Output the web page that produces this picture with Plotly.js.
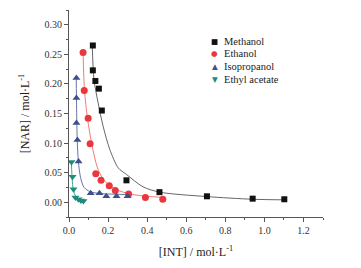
<!DOCTYPE html>
<html>
<head>
<meta charset="utf-8">
<script src="https://cdn.plot.ly/plotly-3.0.1.min.js"></script>
<style>html,body{margin:0;padding:0;background:#fff;}#chart{width:361px;height:268px;}</style>
</head>
<body>
<div id="chart"></div>
<script>
// Series names
const seriesNames = ["Methanol", "Ethanol", "Isopropanol", "Ethyl acetate"];

// Measured points: [INT] (x) and [NAR] (y), mol/L
const methanolX = [0.122, 0.122, 0.135, 0.153, 0.168, 0.294, 0.463, 0.706, 0.940, 1.102];
const methanolY = [0.265, 0.223, 0.205, 0.192, 0.155, 0.037, 0.017, 0.010, 0.006, 0.005];
const ethanolX = [0.072, 0.078, 0.098, 0.108, 0.137, 0.164, 0.206, 0.237, 0.305, 0.391, 0.480];
const ethanolY = [0.253, 0.189, 0.142, 0.099, 0.048, 0.037, 0.028, 0.020, 0.014, 0.008, 0.005];
const isoX = [0.038, 0.038, 0.038, 0.043, 0.049, 0.111, 0.156, 0.191, 0.243, 0.300];
const isoY = [0.210, 0.176, 0.134, 0.105, 0.069, 0.015, 0.015, 0.010, 0.010, 0.010];
const ethylX = [0.013, 0.018, 0.023, 0.033, 0.048, 0.061, 0.074];
const ethylY = [0.068, 0.043, 0.022, 0.008, 0.005, 0.003, 0.002];

// Fitted curves
const methanolFitX = [0.119, 0.128, 0.149, 0.175, 0.209, 0.252, 0.294, 0.379, 0.464, 0.703, 0.940, 1.102];
const methanolFitY = [0.264, 0.207, 0.168, 0.128, 0.089, 0.058, 0.047, 0.026, 0.017, 0.0096, 0.005, 0.004];
const ethanolFitX = [0.072, 0.079, 0.094, 0.107, 0.122, 0.146, 0.175, 0.209, 0.260, 0.327, 0.403, 0.481];
const ethanolFitY = [0.253, 0.190, 0.143, 0.116, 0.089, 0.058, 0.039, 0.028, 0.019, 0.013, 0.010, 0.008];
const isoFitX = [0.037, 0.039, 0.042, 0.048, 0.059, 0.077, 0.107, 0.158, 0.235, 0.301];
const isoFitY = [0.210, 0.157, 0.106, 0.069, 0.042, 0.025, 0.018, 0.0147, 0.0135, 0.013];
const ethylFitX = [0.012, 0.015, 0.020, 0.031, 0.046, 0.077];
const ethylFitY = [0.068, 0.047, 0.025, 0.012, 0.006, 0.003];

// Tick labels
const xTickVals = [0, 0.2, 0.4, 0.6, 0.8, 1.0, 1.2];
const yTickVals = [0, 0.05, 0.10, 0.15, 0.20, 0.25, 0.30];

const colors = ["#111111", "#e8383d", "#3f4f8c", "#1e8c7a"];
const lineColors = ["#555555", "#ee6a66", "#55649c", "#2a9a88"];
const symbols = ["square", "circle", "triangle-up", "triangle-down"];
const glyphs = ["\u25A0", "\u25CF", "\u25B2", "\u25BC"];

const fits = [[methanolFitX, methanolFitY], [ethanolFitX, ethanolFitY], [isoFitX, isoFitY], [ethylFitX, ethylFitY]];
const pts = [[methanolX, methanolY], [ethanolX, ethanolY], [isoX, isoY], [ethylX, ethylY]];
const sizes = [6, 7, 7, 7];

const traces = [];
fits.forEach((f, i) => {
  traces.push({x: f[0], y: f[1], mode: "lines", type: "scatter", line: {color: lineColors[i], width: 0.9, shape: "spline", smoothing: 0.8}, showlegend: false, hoverinfo: "skip"});
});
pts.forEach((p, i) => {
  traces.push({x: p[0], y: p[1], mode: "markers", type: "scatter", name: seriesNames[i], marker: {symbol: symbols[i], color: colors[i], size: sizes[i]}, showlegend: false});
});

// Legend drawn as annotations (glyph + name)
const annotations = [];
seriesNames.forEach((n, i) => {
  const yy = 0.850 - i * 0.0617;
  annotations.push({
    xref: "paper", yref: "paper", x: 0.5736, y: yy, xanchor: "center", yanchor: "middle",
    showarrow: false, text: glyphs[i],
    font: {family: "DejaVu Sans", size: 7.5, color: colors[i]}
  });
  annotations.push({
    xref: "paper", yref: "paper", x: 0.604, y: yy, xanchor: "left", yanchor: "middle",
    showarrow: false, align: "left", text: n,
    font: {family: "Liberation Serif", size: 10.5, color: "#222"}
  });
});

const axisCommon = {
  showgrid: false, zeroline: false, showline: true, linecolor: "#555", linewidth: 1,
  ticks: "outside", ticklen: 4, tickwidth: 1, tickcolor: "#555",
  tickfont: {family: "Liberation Serif", size: 10, color: "#333"}
};

const layout = {
  width: 361, height: 268,
  margin: {l: 69, r: 38, t: 10, b: 51},
  paper_bgcolor: "#fff", plot_bgcolor: "#fff",
  showlegend: false,
  font: {family: "Liberation Serif", color: "#333"},
  xaxis: Object.assign({}, axisCommon, {
    range: [0, 1.3], tickvals: xTickVals, tickformat: ".1f",
    minor: {dtick: 0.1, ticklen: 2, tickcolor: "#555", ticks: "outside"},
    title: {text: "[INT] / mol·L<sup>-1</sup>", font: {family: "Liberation Serif", size: 12, color: "#222"}, standoff: 12}
  }),
  yaxis: Object.assign({}, axisCommon, {
    range: [-0.025, 0.325], tickvals: yTickVals, tickformat: ".2f",
    minor: {dtick: 0.025, ticklen: 2, tickcolor: "#555", ticks: "outside"},
    title: {text: "[NAR] / mol·L<sup>-1</sup>", font: {family: "Liberation Serif", size: 12, color: "#222"}, standoff: 12}
  }),
  annotations: annotations
};

Plotly.newPlot("chart", traces, layout, {staticPlot: true, displayModeBar: false});
</script>
</body>
</html>
